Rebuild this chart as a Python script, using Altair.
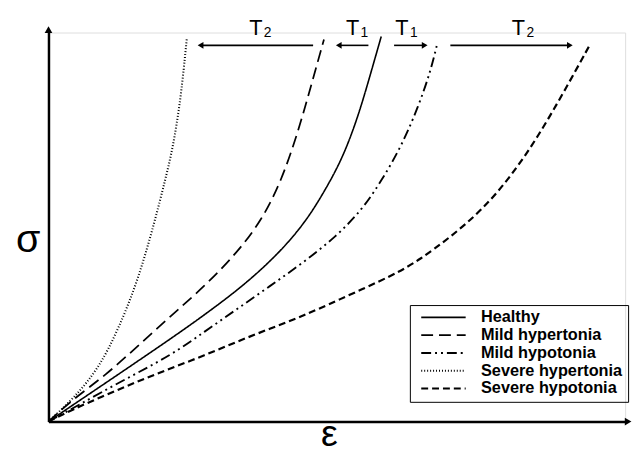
import altair as alt
import pandas as pd

# ---- data (units = strain / stress, arbitrary) ----
conditions = ["Healthy", "Mild hypertonia", "Mild hypotonia",
              "Severe hypertonia", "Severe hypotonia"]

healthy_x = [0, 31, 74, 124, 158, 198, 234, 261, 280, 298, 314, 327, 337]
healthy_y = [0, 21, 50, 84, 108, 138, 171, 203, 234, 267, 310, 355, 390]

mild_hyper_x = [0, 24, 58, 91, 124, 158, 191, 216, 236, 253, 267, 279]
mild_hyper_y = [0, 22, 47, 77, 107, 137, 171, 204, 244, 294, 344, 387]

mild_hypo_x = [0, 31, 74, 124, 158, 191, 224, 258, 291, 318, 338, 358, 375, 387, 394]
mild_hypo_y = [0, 17, 41, 67, 91, 114, 137, 161, 187, 215, 245, 280, 320, 355, 384]

severe_hyper_x = [0, 26, 51, 71, 91, 108, 118, 126, 134, 140]
severe_hyper_y = [0, 24, 54, 94, 144, 204, 244, 277, 327, 387]

severe_hypo_x = [0, 24, 58, 91, 124, 158, 191, 224, 258, 291, 351, 376, 406,
                 439, 469, 496, 521, 548]
severe_hypo_y = [0, 12, 27, 41, 54, 67, 81, 94, 107, 122, 149, 164, 186,
                 214, 249, 289, 332, 381]

# T1 / T2 shift arrows
arrow_start = [268, 324, 350, 407]
arrow_tip = [154, 294, 381, 528]
arrow_dir = ["left", "left", "right", "right"]
arrow_level = [381, 381, 381, 381]

label_main = ["T", "T", "T", "T"]
label_sub = ["2", "1", "1", "2"]
label_x = [210, 308, 358, 476]
label_level = [392, 392, 392, 392]

axis_end_x = [587]
axis_end_y = [397]

X_MAX, Y_MAX = 584, 394

# ---- tables ----
series = {
    "Healthy": (healthy_x, healthy_y),
    "Mild hypertonia": (mild_hyper_x, mild_hyper_y),
    "Mild hypotonia": (mild_hypo_x, mild_hypo_y),
    "Severe hypertonia": (severe_hyper_x, severe_hyper_y),
    "Severe hypotonia": (severe_hypo_x, severe_hypo_y),
}
rows = []
for name, (xs, ys) in series.items():
    for i, (a, b) in enumerate(zip(xs, ys)):
        rows.append({"condition": name, "x": a, "y": b, "order": i})
curves = pd.DataFrame(rows)

arrows = pd.DataFrame({"x": arrow_start, "x2": arrow_tip,
                       "y": arrow_level, "dir": arrow_dir})
labels = pd.DataFrame({"x": label_x, "y": label_level,
                       "t": label_main, "s": label_sub})

FONT = "Liberation Sans"
xscale = alt.Scale(domain=[0, X_MAX], nice=False, zero=False)
yscale = alt.Scale(domain=[0, Y_MAX], nice=False, zero=False)

dash_range = [[1, 0], [12, 6], [10, 4, 2, 4, 2, 4], [1, 2], [7, 4]]
width_range = [1.6, 2.2, 1.6, 1.1, 2.0]

legend = alt.Legend(
    title=None, orient="none", legendX=366, legendY=276,
    symbolType="stroke", symbolSize=2025, symbolStrokeColor="black",
    labelFont=FONT, labelFontSize=16.5, labelFontWeight="bold",
    labelColor="black", strokeColor="black", padding=5,
    clipHeight=15, rowPadding=1, symbolOffset=5, labelOffset=14,
)

base_curve = alt.Chart(curves).mark_line(color="black", interpolate="basis").encode(
    x=alt.X("x:Q", scale=xscale, axis=alt.Axis(
        title="ε", labels=False, ticks=False, grid=False,
        domainColor="black", domainWidth=2.5,
        titleFont=FONT, titleFontSize=38, titleFontWeight="normal",
        titleAngle=0, titleX=284, titleY=24, titleAlign="center",
        titleBaseline="alphabetic", titleColor="black")),
    y=alt.Y("y:Q", scale=yscale, axis=alt.Axis(
        title="σ", labels=False, ticks=False, grid=False,
        domainColor="black", domainWidth=2.5,
        titleFont=FONT, titleFontSize=40, titleFontWeight="normal",
        titleAngle=0, titleX=-21, titleY=222, titleAlign="center",
        titleBaseline="alphabetic", titleColor="black")),
    strokeDash=alt.StrokeDash("condition:N", scale=alt.Scale(domain=conditions, range=dash_range), legend=legend),
    strokeWidth=alt.StrokeWidth("condition:N", scale=alt.Scale(domain=conditions, range=width_range), legend=legend),
    order="order:Q",
)

shafts = alt.Chart(arrows).mark_rule(color="black", strokeWidth=1.6).encode(
    x=alt.X("x:Q", scale=xscale), x2="x2:Q", y=alt.Y("y:Q", scale=yscale))

heads_left = alt.Chart(arrows).transform_filter(alt.datum.dir == "left").mark_point(
    shape="triangle-left", filled=True, color="black", size=45, opacity=1, dx=3
).encode(x=alt.X("x2:Q", scale=xscale), y=alt.Y("y:Q", scale=yscale))

heads_right = alt.Chart(arrows).transform_filter(alt.datum.dir == "right").mark_point(
    shape="triangle-right", filled=True, color="black", size=45, opacity=1, dx=-3
).encode(x=alt.X("x2:Q", scale=xscale), y=alt.Y("y:Q", scale=yscale))

t_main = alt.Chart(labels).mark_text(
    font=FONT, fontSize=22, color="black", align="center", baseline="alphabetic"
).encode(x=alt.X("x:Q", scale=xscale), y=alt.Y("y:Q", scale=yscale), text="t:N")

t_sub = alt.Chart(labels).mark_text(
    font=FONT, fontSize=14, color="black", align="left", baseline="alphabetic", dx=8, dy=3
).encode(x=alt.X("x:Q", scale=xscale), y=alt.Y("y:Q", scale=yscale), text="s:N")

axis_heads = pd.DataFrame({"x": [axis_end_x[0], 0], "y": [0, axis_end_y[0]]})
ax_right = alt.Chart(axis_heads.iloc[[0]]).mark_point(
    shape="triangle-right", filled=True, color="black", size=60, opacity=1
).encode(x=alt.X("x:Q", scale=xscale), y=alt.Y("y:Q", scale=yscale))
ax_up = alt.Chart(axis_heads.iloc[[1]]).mark_point(
    shape="triangle-up", filled=True, color="black", size=60, opacity=1
).encode(x=alt.X("x:Q", scale=xscale), y=alt.Y("y:Q", scale=yscale))

chart = alt.layer(
    base_curve, shafts, heads_left, heads_right, t_main, t_sub, ax_right, ax_up
).properties(
    width=X_MAX, height=Y_MAX,
    autosize=alt.AutoSizeParams(type="none"),
    padding={"left": 41, "top": 22, "right": 11, "bottom": 30},
).configure_view(stroke=None).configure(background="white")

chart.save("out.html", embed_options={"renderer": "svg", "actions": False})
